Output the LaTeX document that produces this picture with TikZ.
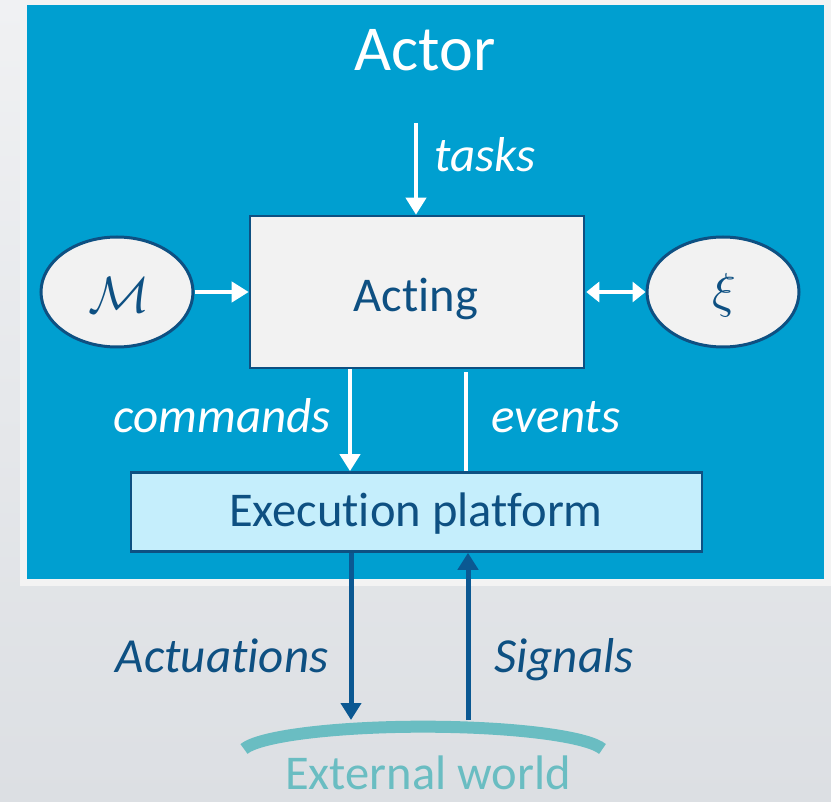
\documentclass[tikz,border=0pt]{standalone}
\usepackage{fontspec}
\setmainfont{Carlito}[Ligatures={NoCommon,NoRequired,NoContextual},Contextuals=NoAlternate]
\usepackage{graphicx}
\usetikzlibrary{arrows.meta,shapes.geometric}

\definecolor{actorblue}{RGB}{0,159,208}
\definecolor{framegray}{RGB}{243,243,243}
\definecolor{bgtop}{RGB}{240,241,243}
\definecolor{bgbottom}{RGB}{220,223,227}
\definecolor{darkblue}{RGB}{14,80,130}
\definecolor{arrowblue}{RGB}{11,88,146}
\definecolor{boxfill}{RGB}{242,242,242}
\definecolor{platformfill}{RGB}{197,238,252}
\definecolor{worldteal}{RGB}{106,189,194}

\tikzset{
  bigtext/.style={font=\fontsize{48.5}{54}\selectfont},
  labeltext/.style={font=\fontsize{49}{54}\selectfont\itshape},
  modulebox/.style={draw=darkblue, line width=2.6pt, fill=boxfill},
  platformbox/.style={draw=darkblue, line width=2.6pt, fill=platformfill},
  modelell/.style={ellipse, draw=darkblue, line width=3pt, fill=boxfill,
    text=darkblue, minimum width=152pt, minimum height=110pt, inner sep=0pt},
  whiteflow/.style={draw=white, line width=4pt,
    -{Triangle[length=17pt,width=20pt]}},
  whitelink/.style={draw=white, line width=4pt},
  whitetwoway/.style={draw=white, line width=4pt,
    {Triangle[length=13pt,width=20pt]}-{Triangle[length=13pt,width=20pt]}},
  blueflow/.style={draw=arrowblue, line width=5pt,
    -{Triangle[length=17pt,width=20pt]}},
}

\begin{document}
\begin{tikzpicture}[x=1pt,y=-1pt]
  % canvas and background
  \useasboundingbox (0,0) rectangle (831,802);
  \shade[top color=bgtop, bottom color=bgbottom] (0,0) rectangle (831,802);
  \fill[framegray] (20,0) rectangle (831,586);
  \fill[actorblue] (27,5) rectangle (824,579);

  % title
  \node[font=\fontsize{64}{70}\selectfont, text=white, anchor=base]
    (title) at (425,71) {Actor};

  % main boxes
  \node[modulebox, minimum width=334pt, minimum height=152pt, inner sep=0pt]
    (acting) at (417,292) {};
  \node[bigtext, text=darkblue, anchor=base] (actingtxt) at (416,312) {Acting};

  \node[platformbox, minimum width=571pt, minimum height=79pt, inner sep=0pt]
    (platform) at (416.5,512) {};
  \node[bigtext, text=darkblue, anchor=base] (platformtxt) at (416,527)
    {Execution platform};

  % models
  \node[modelell] (models) at (117,292) {};
  \node[text=darkblue] (modelsym) at (119,295) {\scalebox{5.1}{$\mathcal{M}$}};
  \node[modelell] (state) at (723,292) {};
  \node[text=darkblue] (statesym) at (724,295) {\scalebox{4.9}{$\xi$}};

  % tasks input
  \coordinate (taskstop) at (416,123);
  \draw[whiteflow] (taskstop) -- (taskstop |- acting.north);
  \node[labeltext, text=white, anchor=base] (taskslbl) at (485,172) {tasks};

  % model and state connections
  \draw[whiteflow] (models.east) -- (acting.west);
  \draw[whitetwoway] ([xshift=1pt]acting.east) -- (state.west);

  % commands and events
  \coordinate (cmdx) at (350,0);
  \coordinate (evtx) at (466,0);
  \draw[whiteflow] (cmdx |- acting.south) -- (cmdx |- platform.north);
  \draw[whitelink] (evtx |- platform.north) -- ([yshift=-3pt]evtx |- acting.south);
  \node[labeltext, text=white, anchor=base] (cmdlbl) at (222,433) {commands};
  \node[labeltext, text=white, anchor=base] (evtlbl) at (556,433) {events};

  % external world
  \draw[worldteal, line width=12pt] (244,749) arc[start angle=190, end angle=350,
    x radius=182, y radius=27];
  \coordinate (actend) at (351,720);
  \coordinate (sigstart) at (468,720);
  \node[bigtext, text=worldteal, anchor=base, inner sep=0pt] (worldlbl) at (428,789)
    {External world};

  % actuations and signals
  \draw[blueflow] (platform.south -| actend) -- (actend);
  \draw[blueflow] (sigstart) -- (platform.south -| sigstart);
  \node[labeltext, text=darkblue, anchor=base] (actlbl) at (222,672) {Actuations};
  \node[labeltext, text=darkblue, anchor=base] (siglbl) at (564,672) {Signals};
\end{tikzpicture}
\end{document}
